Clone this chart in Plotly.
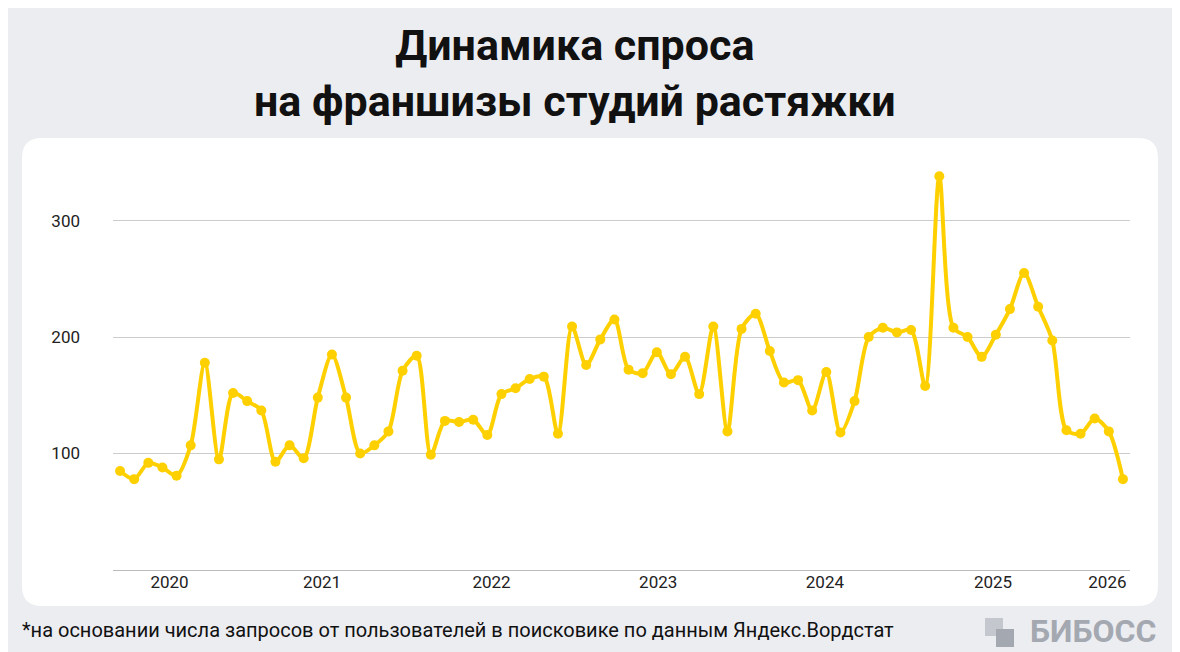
import plotly.graph_objects as go

values = [85, 78, 92, 88, 81, 107, 178, 95, 152, 145, 137, 93, 107, 96, 148, 185, 148, 100,
          107, 119, 171, 184, 99, 128, 127, 129, 116, 151, 156, 164, 166, 117, 209, 176, 198, 215,
          172, 169, 187, 168, 183, 151, 209, 119, 207, 220, 188, 161, 163, 137, 170, 118, 145, 200,
          208, 204, 206, 158, 338, 208, 200, 183, 202, 224, 255, 226, 197, 120, 117, 130, 119, 78]
x_idx = list(range(len(values)))
year_labels = ["2020", "2021", "2022", "2023", "2024", "2025", "2026"]
year_pos = [3.5, 14.3, 26.3, 38.1, 49.9, 61.8, 69.9]
y_ticks = [100, 200, 300]

W, H = 1180, 652
OFF = 8
L, R, T, B = 113 - OFF, 50 + OFF, 160 - OFF, 82 + OFF
pw, ph = W - L - R, H - T - B

def px(x): return (x - OFF - L) / pw
def py(y): return (H - B - (y - OFF)) / ph

fig = go.Figure()
fig.add_trace(go.Scatter(x=x_idx, y=values, mode="lines+markers",
                         line=dict(color="#FFD000", width=4, shape="spline", smoothing=0.8),
                         marker=dict(color="#FFD000", size=10), cliponaxis=False,
                         hoverinfo="y"))

x0, y0, x1, y1, r = 22, 138, 1158, 606, 20
path = (f"M {px(x0+r)} {py(y0)} L {px(x1-r)} {py(y0)} Q {px(x1)} {py(y0)} {px(x1)} {py(y0+r)} "
        f"L {px(x1)} {py(y1-r)} Q {px(x1)} {py(y1)} {px(x1-r)} {py(y1)} "
        f"L {px(x0+r)} {py(y1)} Q {px(x0)} {py(y1)} {px(x0)} {py(y1-r)} "
        f"L {px(x0)} {py(y0+r)} Q {px(x0)} {py(y0)} {px(x0+r)} {py(y0)} Z")
shapes = [dict(type="path", path=path, xref="paper", yref="paper", fillcolor="white",
               line=dict(width=0), layer="below")]
for (a, b, c) in [(985, 618, "#c4c7cd"), (996, 629, "#a4a8b0")]:
    shapes.append(dict(type="rect", xref="paper", yref="paper", x0=px(a), x1=px(a + 18),
                       y0=py(b + 18), y1=py(b), fillcolor=c, line=dict(width=0)))

fig.update_layout(
    width=W, height=H, margin=dict(l=L, r=R, t=T, b=B),
    paper_bgcolor="#ecedf1", plot_bgcolor="rgba(0,0,0,0)", showlegend=False,
    font=dict(family="Roboto", color="#222"),
    shapes=shapes,
    xaxis=dict(range=[-0.5, 71.5], tickvals=year_pos, ticktext=year_labels, showgrid=False,
               zeroline=False, showline=False, ticks="", tickfont=dict(size=17, color="#222")),
    yaxis=dict(range=[0, 352], tickvals=y_ticks, showgrid=True, gridcolor="#cccccc", gridwidth=1,
               zeroline=True, zerolinecolor="#bbbbbb", zerolinewidth=1, showline=False,
               ticks="", tickfont=dict(size=17, color="#222"), ticklabelstandoff=32),
    annotations=[
        dict(text="<b>Динамика спроса<br>на франшизы студий растяжки</b>", x=px(575), xref="paper",
             xanchor="center", y=py(18), yref="paper", yanchor="top", showarrow=False,
             font=dict(size=43, color="#111", family="Roboto"), align="center"),
        dict(text="*на основании числа запросов от пользователей в поисковике по данным Яндекс.Вордстат",
             x=px(20), xref="paper", xanchor="left", y=py(630), yref="paper", yanchor="middle",
             showarrow=False, font=dict(size=20, color="#111")),
        dict(text="<b>БИБОСС</b>", x=px(1158), xref="paper", xanchor="right", y=py(631), yref="paper",
             yanchor="middle", showarrow=False, font=dict(size=32, color="#a4a8b0")),
    ])
fig.write_html("out.html")
